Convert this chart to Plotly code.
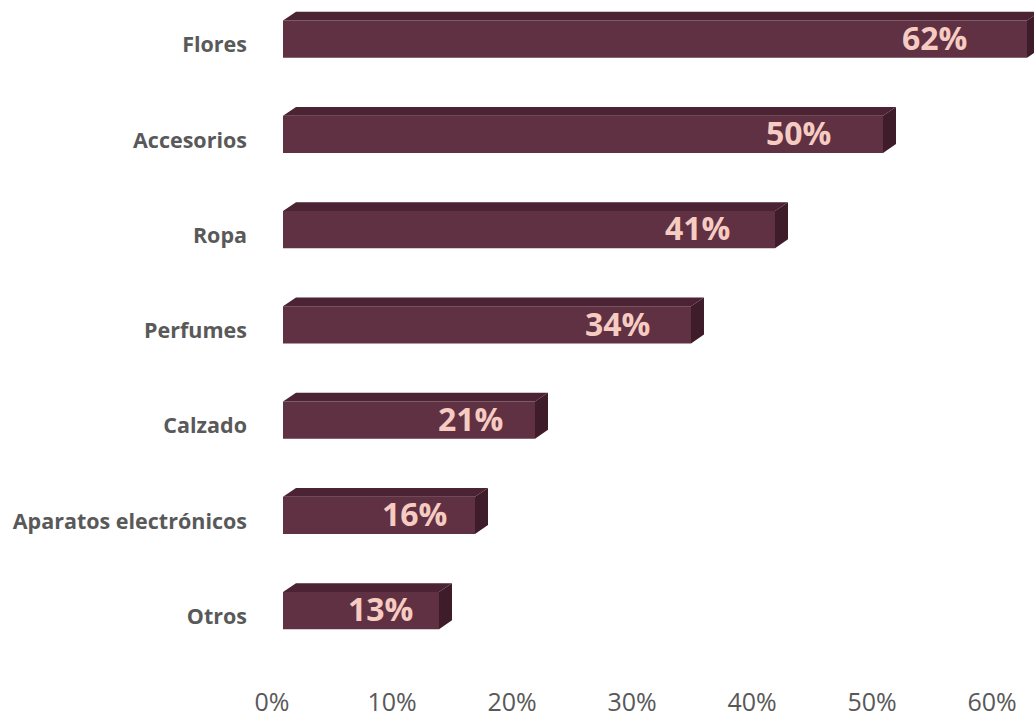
import plotly.graph_objects as go

# Survey data (bottom to top)
categories = ["Otros", "Aparatos electrónicos", "Calzado", "Perfumes",
              "Ropa", "Accesorios", "Flores"]
values = [13, 16, 21, 34, 41, 50, 62]
tick_values = [0, 10, 20, 30, 40, 50, 60]
tick_labels = [f"{t}%" for t in tick_values]

# Styling / pseudo-3D geometry
W, H = 1034, 718
M_L, M_R, M_T, M_B = 260, 0, 2, 50
X_RANGE = [-1.0, 63.5]
Y_RANGE = [-0.5, 6.45]
px_x = (W - M_L - M_R) / (X_RANGE[1] - X_RANGE[0])
px_y = (H - M_T - M_B) / (Y_RANGE[1] - Y_RANGE[0])

FRONT_SHIFT = 11 / px_x       # front face sits a little right of the floor origin
DEPTH_X = 13 / px_x           # extrusion offset of the 3D box
DEPTH_Y = 9 / px_y
BAR_W = 0.39
BAR_OFF = -0.135

FRONT = "#5f3142"
TOP = "#4b2332"
SIDE = "#3e1c29"
LABEL = "#f6cbc2"
GREY = "#595959"

ys = list(range(len(categories)))

fig = go.Figure()

# Front faces
fig.add_trace(go.Bar(
    y=ys, x=values, base=FRONT_SHIFT, orientation="h",
    width=BAR_W, offset=BAR_OFF,
    marker=dict(color=FRONT, line=dict(width=0)),
    hoverinfo="skip", showlegend=False,
))

# Top and side faces of each box
top_x, top_y, side_x, side_y = [], [], [], []
for y, v in zip(ys, values):
    x0, x1 = FRONT_SHIFT, FRONT_SHIFT + v
    yb, yt = y + BAR_OFF, y + BAR_OFF + BAR_W
    top_x += [x0, x0 + DEPTH_X, x1 + DEPTH_X, x1, x0, None]
    top_y += [yt, yt + DEPTH_Y, yt + DEPTH_Y, yt, yt, None]
    side_x += [x1, x1 + DEPTH_X, x1 + DEPTH_X, x1, x1, None]
    side_y += [yb, yb + DEPTH_Y, yt + DEPTH_Y, yt, yb, None]

fig.add_trace(go.Scatter(x=top_x, y=top_y, mode="lines", fill="toself",
                         fillcolor=TOP, line=dict(width=0, color=TOP),
                         hoverinfo="skip", showlegend=False))
fig.add_trace(go.Scatter(x=side_x, y=side_y, mode="lines", fill="toself",
                         fillcolor=SIDE, line=dict(width=0, color=SIDE),
                         hoverinfo="skip", showlegend=False))

# Value labels inside the bars
for y, v in zip(ys, values):
    fig.add_annotation(
        x=FRONT_SHIFT + 0.943 * v - 4.16, y=y + BAR_OFF + BAR_W / 2 + 0.02,
        text=f"<b>{v}%</b>", showarrow=False, xanchor="center", yanchor="middle",
        font=dict(family="Open Sans", size=32, color=LABEL),
    )

fig.update_layout(
    width=W, height=H,
    margin=dict(l=M_L, r=M_R, t=M_T, b=M_B),
    paper_bgcolor="white", plot_bgcolor="white",
    barmode="overlay",
    xaxis=dict(range=X_RANGE, tickvals=tick_values, ticktext=tick_labels,
               showgrid=False, zeroline=False, showline=False,
               ticklabelstandoff=21,
               tickfont=dict(family="Open Sans", size=25, color=GREY)),
    yaxis=dict(range=Y_RANGE, tickvals=ys,
               ticktext=[f"<b>{c}</b>" for c in categories],
               showgrid=False, zeroline=False, showline=False,
               ticklabelstandoff=12,
               tickfont=dict(family="Open Sans", size=21.5, color=GREY)),
)

fig.write_html("out.html")
